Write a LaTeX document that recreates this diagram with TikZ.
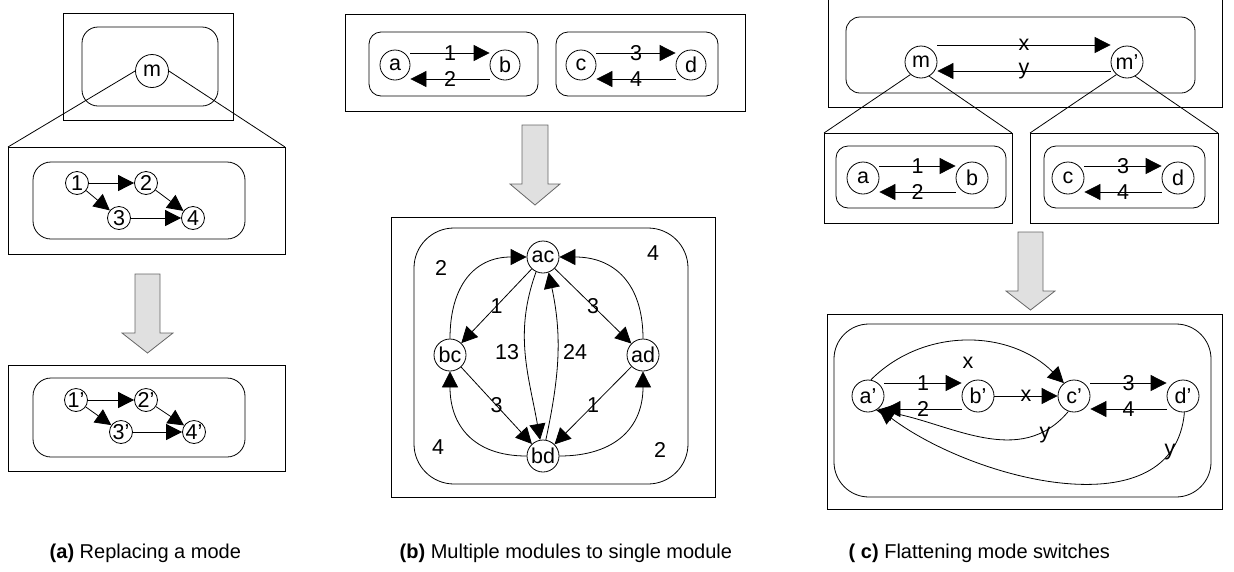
\documentclass[tikz,border=0pt]{standalone}
\usepackage{fontspec}
\setmainfont{Liberation Sans}
\usetikzlibrary{arrows.meta}

\begin{document}
\begin{tikzpicture}[x=1pt,y=-1pt,line width=0.8pt,
  every node/.style={font=\fontsize{21.5}{24}\selectfont},
  state/.style={circle,draw,inner sep=0pt,minimum size=32pt},
  smallstate/.style={circle,draw,inner sep=0pt,minimum size=23pt},
  trans/.style={-{Triangle[length=16pt,width=16pt]}},
  box/.style={draw},
  module/.style={draw,rounded corners=16pt},
  bigarrow/.style={draw=black!60,fill=black!12},
  caption/.style={anchor=west,font=\fontsize{20}{22}\selectfont}]

\useasboundingbox (0,0) rectangle (1234,571);

% (a) replacing a mode
\draw[box] (63,13) rectangle (233,120);
\draw[module] (82,27) rectangle (218,106);
\node[state,minimum size=33pt] (am) at (152,71) {m};

\draw[box] (8,147) rectangle (285,254);
\coordinate (azoomL) at (8,147);
\coordinate (azoomR) at (285,147);
\draw (am.west) -- (azoomL);
\draw (am.east) -- (azoomR);

\draw[module,rounded corners=18pt] (33,162) rectangle (245,239);
\node[smallstate] (a1) at (77,183) {1};
\node[smallstate] (a2) at (146,183) {2};
\node[smallstate] (a3) at (119,218) {3};
\node[smallstate] (a4) at (193,218) {4};
\draw[trans] (a1) -- (a2);
\draw[trans] (a1) -- (a3);
\draw[trans] (a2) -- (a4);
\draw[trans] (a3) -- (a4);

\filldraw[bigarrow] (135,274) -- (160,274) -- (160,333) -- (173,333) -- (147.5,353) -- (122,333) -- (135,333) -- cycle;

\draw[box] (8,365) rectangle (285,471);
\draw[module,rounded corners=18pt] (33,378) rectangle (245,457);
\node[smallstate] (a1p) at (76,400) {1'};
\node[smallstate] (a2p) at (146,400) {2'};
\node[smallstate] (a3p) at (121,432) {3'};
\node[smallstate] (a4p) at (194,432) {4'};
\draw[trans] (a1p) -- (a2p);
\draw[trans] (a1p) -- (a3p);
\draw[trans] (a2p) -- (a4p);
\draw[trans] (a3p) -- (a4p);

% (b) multiple modules
\draw[box] (345,14) rectangle (745,111);
\draw[module,rounded corners=12pt] (369,32) rectangle (538,96);
\draw[module,rounded corners=12pt] (556,32) rectangle (718,96);
\node[state,minimum size=30pt] (ta) at (395,65) {a};
\node[state,minimum size=30pt] (tb) at (505,65) {b};
\node[state,minimum size=30pt] (tc) at (581,65) {c};
\node[state,minimum size=30pt] (td) at (691,65) {d};
\draw[trans] ([yshift=12pt]ta.east) -- node{1} ([yshift=12pt]tb.west);
\draw[trans] ([yshift=-14pt]tb.west) -- node{2} ([yshift=-14pt]ta.east);
\draw[trans] ([yshift=12pt]tc.east) -- node{3} ([yshift=12pt]td.west);
\draw[trans] ([yshift=-14pt]td.west) -- node{4} ([yshift=-14pt]tc.east);

\filldraw[bigarrow] (522,125) -- (548,125) -- (548,184) -- (560,184) -- (535,205) -- (510,184) -- (522,184) -- cycle;

\draw[box] (391,217) rectangle (715,497);
\draw[module,rounded corners=40pt] (414,228) rectangle (688,484);
\node[state] (ac) at (543,257) {ac};
\node[state] (bc) at (450,355) {bc};
\node[state] (ad) at (643,355) {ad};
\node[state] (bd) at (543,456) {bd};
\draw[trans] (ac) -- node{1} (bc);
\draw[trans] (ac) -- node{3} (ad);
\draw[trans] (bc) -- node{3} (bd);
\draw[trans] (ad) -- node{1} (bd);
\draw[trans] (bc) to[out=90,in=180,looseness=1.2] (ac);
\draw[trans] (ad) to[out=90,in=0,looseness=1.2] (ac);
\draw[trans] (bd) to[out=180,in=270,looseness=1.2] (bc);
\draw[trans] (bd) to[out=0,in=270,looseness=1.2] (ad);
\draw[trans] (ac.245) to[out=250,in=100] (bd.100);
\draw[trans] (bd.80) to[out=78,in=282] (ac.290);
\node (lb2a) at (441,268) {2};
\node (lb4a) at (653,253) {4};
\node (lb4b) at (438,447) {4};
\node (lb2b) at (660,450) {2};
\node (lb13) at (507,352) {13};
\node (lb24) at (575,352) {24};

% (c) flattening mode switches
\draw[box] (828,-5) rectangle (1222,107);
\draw[module,rounded corners=14pt] (846,17) rectangle (1195,93);
\node[state] (cm) at (921,62) {m};
\node[state] (cmp) at (1127,62) {m'};
\draw[trans] ([yshift=17pt]cm.east) -- node{x} ([yshift=17pt]cmp.west);
\draw[trans] ([yshift=-9pt]cmp.west) -- node{y} ([yshift=-9pt]cm.east);

\coordinate (cz1) at (824,133);
\coordinate (cz2) at (1012,133);
\coordinate (cz3) at (1030,133);
\coordinate (cz4) at (1218,133);
\draw (cm.230) -- (cz1);
\draw (cm.300) -- (cz2);
\draw (cmp.230) -- (cz3);
\draw (cmp.300) -- (cz4);

\draw[box] (824,133) rectangle (1012,223);
\draw[box] (1030,133) rectangle (1218,223);
\draw[module,rounded corners=12pt] (836,146) rectangle (1006,208);
\draw[module,rounded corners=12pt] (1044,146) rectangle (1205,208);
\node[state] (ca) at (863,178) {a};
\node[state] (cb) at (972,178) {b};
\node[state] (cc) at (1068,178) {c};
\node[state] (cd) at (1178,178) {d};
\draw[trans] ([yshift=12pt]ca.east) -- node{1} ([yshift=12pt]cb.west);
\draw[trans] ([yshift=-14pt]cb.west) -- node{2} ([yshift=-14pt]ca.east);
\draw[trans] ([yshift=12pt]cc.east) -- node{3} ([yshift=12pt]cd.west);
\draw[trans] ([yshift=-14pt]cd.west) -- node{4} ([yshift=-14pt]cc.east);

\filldraw[bigarrow] (1018,232) -- (1043,232) -- (1043,291) -- (1055,291) -- (1030.5,310) -- (1006,291) -- (1018,291) -- cycle;

\draw[box] (827,314) rectangle (1222,509);
\draw[module,rounded corners=35pt] (834,324) rectangle (1211,497);
\node[state] (cap) at (868,396) {a'};
\node[state] (cbp) at (978,396) {b'};
\node[state] (ccp) at (1074,396) {c'};
\node[state] (cdp) at (1183,396) {d'};
\draw[trans] ([yshift=13pt]cap.east) -- node{1} ([yshift=13pt]cbp.west);
\draw[trans] ([yshift=-13pt]cbp.west) -- node{2} ([yshift=-13pt]cap.east);
\draw[trans] (cbp) -- node{x} (ccp);
\draw[trans] ([yshift=13pt]ccp.east) -- node{3} ([yshift=13pt]cdp.west);
\draw[trans] ([yshift=-13pt]cdp.west) -- node{4} ([yshift=-13pt]ccp.east);
\draw[trans] (cap.80) to[out=45,in=135] (ccp.128);
\draw[trans] (ccp.250) to[out=230,in=-10] (cap.300);
\draw[trans] (cdp.275) to[out=265,in=-37] (cap.310);
\node (lbx) at (968,363) {x};
\node (lby1) at (1045,435) {y};
\node (lby2) at (1170,452) {y};

% captions
\node[caption] (capa) at (46,553) {\textbf{(a)} Replacing a mode};
\node[caption] (capb) at (396,553) {\textbf{(b)} Multiple modules to single module};
\node[caption] (capc) at (845,553) {\textbf{( c)} Flattening mode switches};

\end{tikzpicture}
\end{document}
